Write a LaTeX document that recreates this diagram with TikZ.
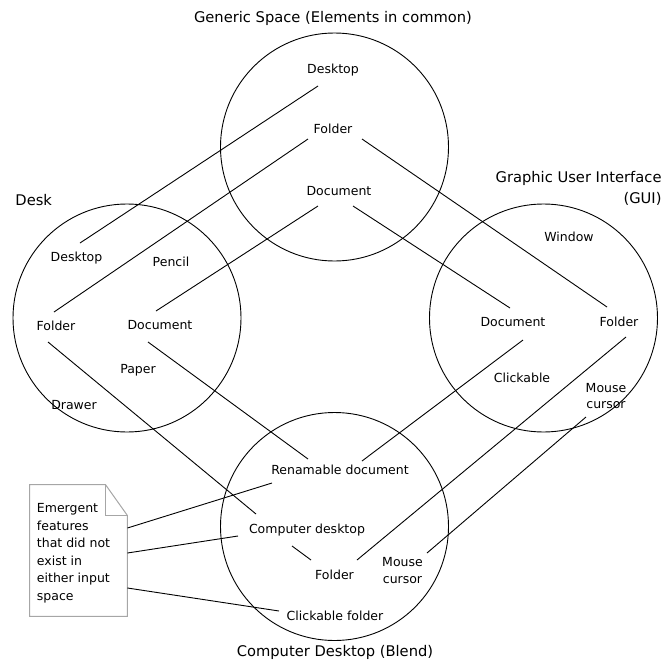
\documentclass[tikz,border=0pt]{standalone}
\usepackage{fontspec}
\setmainfont{DejaVu Sans}
\usetikzlibrary{calc}
\begin{document}
\begin{tikzpicture}[x=1pt,y=-1pt,
  line width=0.9pt,
  lbl/.style={font=\fontsize{12.5}{15}\selectfont, inner sep=0pt, text height=9.4pt, text depth=2.5pt},
  ttl/.style={font=\fontsize{14.7}{21}\selectfont, inner sep=0pt},
  ring/.style={draw, circle, minimum size=228pt, inner sep=0pt},
  link/.style={draw, line width=0.9pt},
  notebord/.style={draw=black!35, line width=1pt}]
\useasboundingbox (0,0) rectangle (670,662);

% circles
\node[ring] (ctop) at (334.5,147) {};
\node[ring] (cleft) at (127,318) {};
\node[ring] (cright) at (543.5,318) {};
\node[ring] (cbot) at (334.5,526.5) {};

% titles
\node[ttl] (gtitle) at (333,18) {Generic Space (Elements in common)};
\node[ttl, anchor=west] (dtitle) at (15,200) {Desk};
\node[ttl, anchor=east, align=right] (guititle) at (662,188.5) {Graphic User Interface\\(GUI)};
\node[ttl] (btitle) at (335,652) {Computer Desktop (Blend)};

% generic space
\node[lbl] (tdesk) at (333,70) {Desktop};
\node[lbl] (tfold) at (333,130) {Folder};
\node[lbl] (tdoc) at (339,192) {Document};

% desk
\node[lbl] (ldesk) at (76.5,258) {Desktop};
\node[lbl] (lpen) at (171,263) {Pencil};
\node[lbl] (lfold) at (56,327) {Folder};
\node[lbl] (ldoc) at (160,326) {Document};
\node[lbl] (lpap) at (138,370) {Paper};
\node[lbl] (ldraw) at (74,406) {Drawer};

% GUI
\node[lbl] (rwin) at (569,238) {Window};
\node[lbl] (rdoc) at (513,323) {Document};
\node[lbl] (rfold) at (619,323) {Folder};
\node[lbl] (rclick) at (522,379) {Clickable};
\node[font=\fontsize{12.5}{16.5}\selectfont, inner sep=0pt, align=center] (rmouse) at (606,396) {Mouse\\cursor};

% blend
\node[lbl] (bren) at (340,471) {Renamable document};
\node[lbl] (bcomp) at (307,530) {Computer desktop};
\node[lbl] (bfold) at (334.5,576) {Folder};
\node[font=\fontsize{12.5}{16.5}\selectfont, inner sep=0pt, align=center] (bmouse) at (402.5,570.5) {Mouse\\cursor};
\node[lbl] (bclick) at (335,617) {Clickable folder};

% note
\node[minimum width=97pt, minimum height=131pt, inner sep=0pt] (note) at (78.5,550.5) {};
\draw[notebord] (note.north west) -- ($(note.north east)+(-22,0)$) -- ($(note.north east)+(0,31)$) -- (note.south east) -- (note.south west) -- cycle;
\draw[notebord] ($(note.north east)+(-22,0)$) -- ($(note.north east)+(-22,31)$) -- ($(note.north east)+(0,31)$);
\node[font=\fontsize{12.5}{17.5}\selectfont, inner sep=0pt, align=left, anchor=north west] (notetxt) at (36.5,503) {Emergent\\features\\that did not\\exist in\\either input\\space};

% connectors
\draw[link] ($(tdesk)+(-15,16)$) -- ($(ldesk)+(3.5,-15)$);
\draw[link] ($(tfold)+(-25,9)$) -- ($(lfold)+(-2,-15)$);
\draw[link] ($(tdoc)+(-21,14)$) -- ($(ldoc)+(-4,-15)$);
\draw[link] ($(tfold)+(29,9)$) -- ($(rfold)+(-12,-16)$);
\draw[link] ($(tdoc)+(14,14)$) -- ($(rdoc)+(-3,-15)$);
\draw[link] ($(lfold)+(-8,15)$) -- ($(bcomp)+(-51,-16)$);
\draw[link] ($(ldoc)+(-12,16)$) -- ($(bren)+(-32,-12)$);
\draw[link] ($(rdoc)+(10,17)$) -- ($(bren)+(22,-10)$);
\draw[link] ($(rfold)+(7,14)$) -- ($(bfold)+(22.5,-16)$);
\draw[link] ($(rmouse)+(-20,21)$) -- ($(bmouse)+(24.5,-17.5)$);
\draw[link] ($(bcomp)+(-15,16)$) -- ($(bfold)+(-23.5,-16)$);
\draw[link] ($(note.east)+(0,-22.5)$) -- ($(bren)+(-68,12)$);
\draw[link] ($(note.east)+(0,2.5)$) -- ($(bcomp)+(-69,6)$);
\draw[link] ($(note.east)+(0,37.5)$) -- ($(bclick)+(-56,-6)$);
\end{tikzpicture}
\end{document}
